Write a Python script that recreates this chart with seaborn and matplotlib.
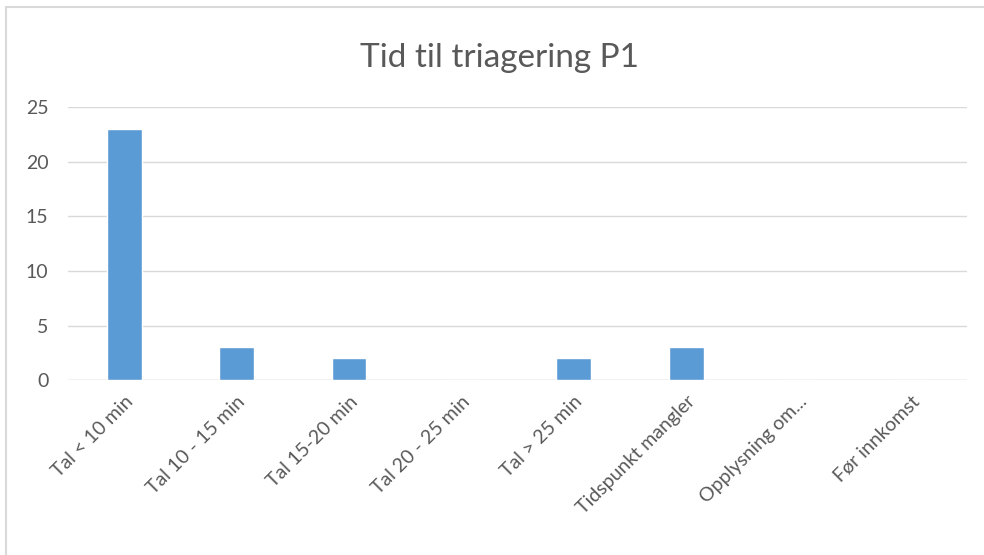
import matplotlib
matplotlib.use("Agg")
import matplotlib.pyplot as plt
import seaborn as sns
import pandas as pd
from matplotlib.patches import Rectangle

# Data
categories = ["Tal < 10 min", "Tal 10 - 15 min", "Tal 15-20 min", "Tal 20 - 25 min",
              "Tal > 25 min", "Tidspunkt mangler", "Opplysning om...", "Før innkomst"]
counts = [23, 3, 2, 0, 2, 3, 0, 0]
y_ticks = [0, 5, 10, 15, 20, 25]

df = pd.DataFrame({"kategori": categories, "antall": counts})

sns.set_style("white")
plt.rcParams["font.family"] = ["Lato", "DejaVu Sans"]

fig = plt.figure(figsize=(9.84, 5.55), dpi=100)
ax = fig.add_axes([0.069, 0.315, 0.914, 0.492])

sns.barplot(data=df, x="kategori", y="antall", color="#5B9BD5", width=0.31,
            saturation=1, ax=ax, zorder=3)

ax.set_ylim(0, 25)
ax.set_yticks(y_ticks)
ax.yaxis.grid(True, color="#D9D9D9", linewidth=1, zorder=0)
ax.set_axisbelow(True)
for s in ax.spines.values():
    s.set_visible(False)
ax.tick_params(axis="both", length=0, labelsize=14, colors="#595959")
ax.tick_params(axis="y", pad=14)
ax.set_xticks(range(len(categories)))
ax.set_xticklabels(categories, rotation=45, ha="right", rotation_mode="anchor")
ax.tick_params(axis="x", pad=9)
ax.set_xlabel("")
ax.set_ylabel("")

# bottom axis line like in the original
ax.axhline(0, color="#D9D9D9", linewidth=1, zorder=1)

fig.text(0.508, 0.896, "Tid til triagering P1", ha="center", va="center",
         fontsize=24, color="#595959")

# chart frame (only left and top edges visible)
fig.add_artist(Rectangle((0.006, -0.05), 1.1, 1.037, transform=fig.transFigure,
                         fill=False, edgecolor="#D9D9D9", linewidth=1.5))

fig.savefig("out.png", dpi=100)
